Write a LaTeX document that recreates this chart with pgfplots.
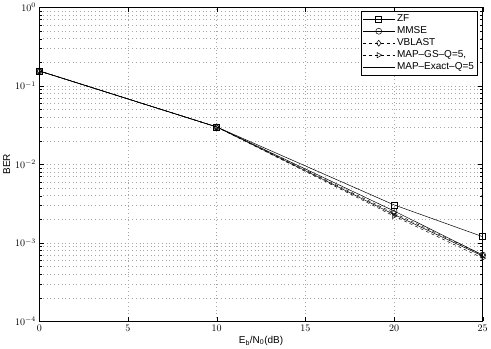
\documentclass[border=0pt]{standalone}
\usepackage{fontspec}
\setmainfont{Liberation Sans}
\usepackage{pgfplots}
\pgfplotsset{compat=1.18}
\begin{document}
\begin{tikzpicture}[x=1bp,y=1bp]
\begin{axis}[
    scale only axis,
    width=442bp, height=313bp,
    ymode=log,
    xmin=0, xmax=25, ymin=1e-4, ymax=1,
    xtick={0,5,10,15,20,25},
    ytick={1e-4,1e-3,1e-2,1e-1,1},
    grid=both,
    major grid style={gray!70, dash pattern=on 0.7bp off 3bp},
    minor grid style={gray!70, dash pattern=on 0.7bp off 3bp},
    tick align=inside,
    tick style={black},
    axis line style={black, line width=0.6pt},
    ticklabel style={font=\fontsize{10}{11}\selectfont},
    xlabel={E$_{\mathrm{b}}$/N$_{\mathrm{0}}$(dB)},
    ylabel={BER},
    label style={font=\fontsize{10}{11}\selectfont},
    xlabel style={yshift=2bp},
    ylabel style={yshift=-2bp},
    legend style={at={(1,1)}, anchor=north east, xshift=-5bp, yshift=-4bp,
        font=\fontsize{10}{11}\selectfont, draw=black, inner sep=1.5bp,
        row sep=-0.5bp, cells={anchor=west}},
    legend cell align=left,
    legend image code/.code={
        \draw[mark=none] (0bp,0bp) -- (32bp,0bp);
        \draw plot[only marks] coordinates {(16bp,0bp)};},
    every axis plot/.append style={black, line width=0.5pt, mark size=3bp},
]
\addplot[mark=square, mark options={solid}] coordinates {
    (0,0.155) (10,0.030) (20,3.05e-3) (25,1.2e-3)};
\addlegendentry{ZF}
\addplot[mark=o, mark options={solid}] coordinates {
    (0,0.155) (10,0.030) (20,2.55e-3) (25,7.0e-4)};
\addlegendentry{MMSE}
\addplot[dashed, mark=diamond, mark options={solid}] coordinates {
    (0,0.155) (10,0.030) (20,2.4e-3) (25,7.0e-4)};
\addlegendentry{VBLAST}
\addplot[dashed, mark=triangle, mark options={solid, rotate=-90}] coordinates {
    (0,0.155) (10,0.030) (20,2.2e-3) (25,6.4e-4)};
\addlegendentry{MAP--GS--Q=5,}
\addplot[solid] coordinates {
    (0,0.155) (10,0.030) (20,2.3e-3) (25,6.8e-4)};
\addlegendentry{MAP--Exact--Q=5}
\end{axis}
\end{tikzpicture}
\end{document}
